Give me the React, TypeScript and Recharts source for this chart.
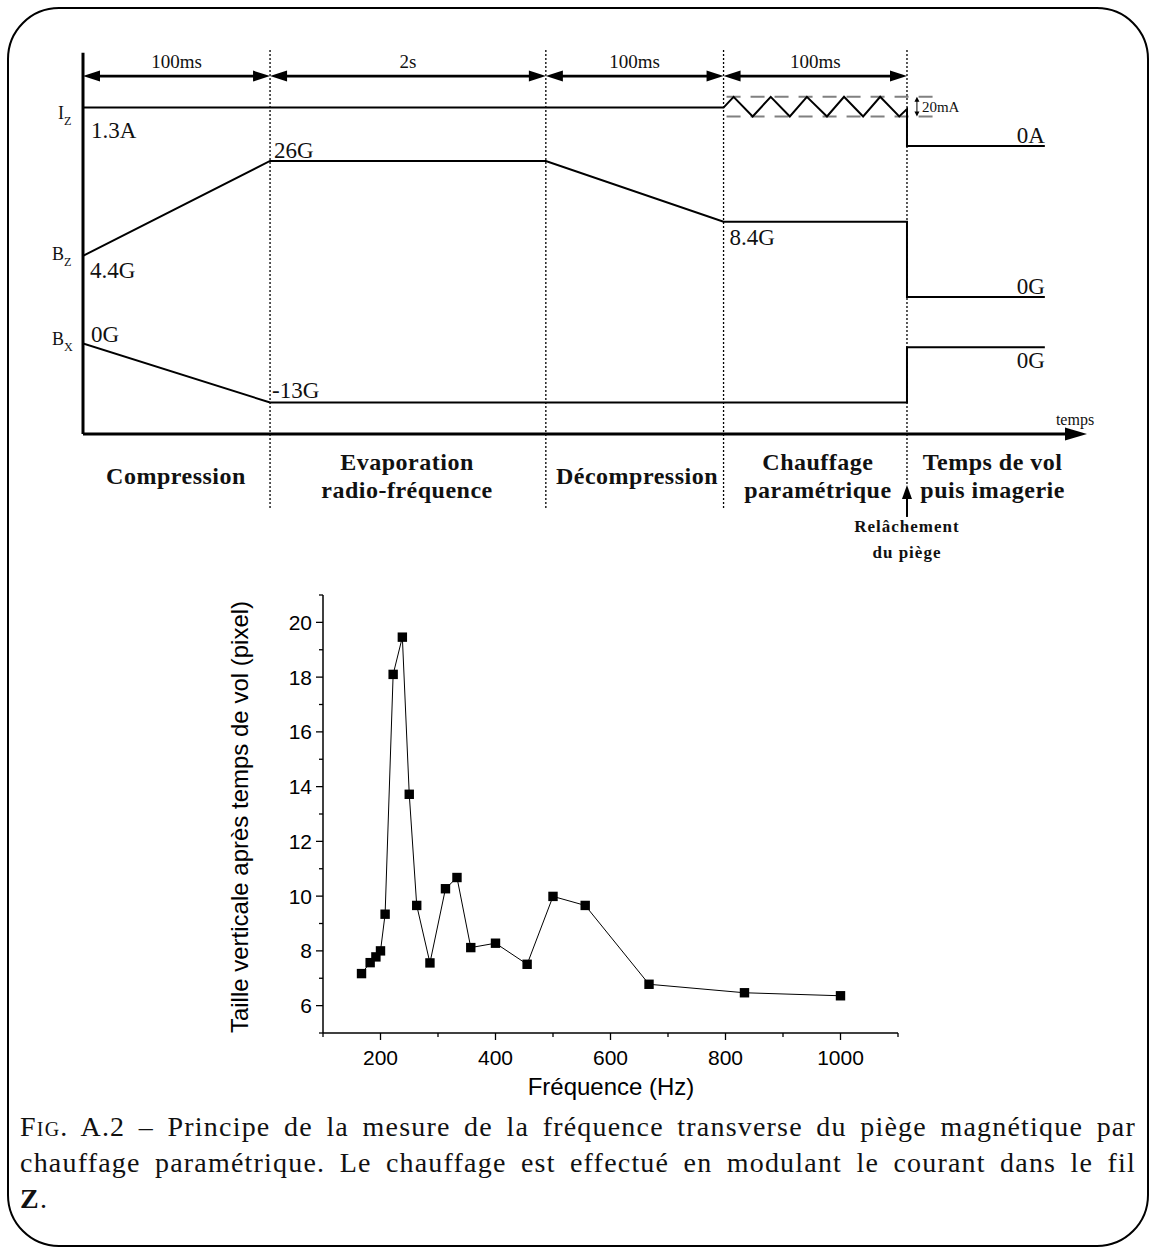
import React from 'react';
import { ComposedChart, LineChart, Line, XAxis, YAxis, ReferenceLine, ReferenceDot } from 'recharts';

const SERIF = '"Liberation Serif", "Times New Roman", serif';
const SANS = '"Liberation Sans", Arial, sans-serif';

// ---- timing diagram (schematic units, not to scale) ----
const phaseBounds = [0, 18.63, 46.1, 63.8, 82.07];
const traceEnd = 95.8;
const axisEnd = 100;
const durations = ['100ms', '2s', '100ms', '100ms'];
const phaseCenters = [9.26, 32.27, 55.18, 73.2, 90.6];
const phaseNames = [
  ['Compression'],
  ['Evaporation', 'radio-fréquence'],
  ['Décompression'],
  ['Chauffage', 'paramétrique'],
  ['Temps de vol', 'puis imagerie'],
];

const izTime = [0, 63.8, 64.8, 66.7, 68.5, 70.4, 72.1, 74.1, 75.8, 77.7, 79.4, 81.3, 82.07, 82.07, 95.8];
const izLevel = [85.0, 85.0, 87.8, 82.7, 87.8, 82.7, 87.8, 82.7, 87.8, 82.7, 87.8, 82.7, 84.6, 75.0, 75.0];
const bzTime = [0, 18.63, 46.1, 63.8, 82.07, 82.07, 95.8];
const bzLevel = [46.4, 71.1, 71.1, 55.3, 55.3, 35.7, 35.7];
const bxTime = [0, 18.63, 82.07, 82.07, 95.8];
const bxLevel = [23.6, 8.2, 8.2, 22.6, 22.6];
const modTop = 87.8;
const modBottom = 82.7;

// ---- parametric heating measurement ----
const freq = [167, 182, 192, 200, 208, 222, 238, 250, 263, 286, 313, 333, 357, 400, 455, 500, 556, 667, 833, 1000];
const size = [7.17, 7.57, 7.78, 8.0, 9.34, 18.1, 19.46, 13.72, 9.66, 7.56, 10.27, 10.68, 8.12, 8.28, 7.51, 9.99, 9.66, 6.78, 6.47, 6.36];
const freqTicks = [100, 200, 300, 400, 500, 600, 700, 800, 900, 1000, 1100];
const sizeTicks = [5, 6, 7, 8, 9, 10, 11, 12, 13, 14, 15, 16, 17, 18, 19, 20, 21];

const zip = (t: number[], v: number[]) => t.map((x, i) => ({ t: x, v: v[i] }));
const sizeData = freq.map((f, i) => ({ f, s: size[i] }));

const arrowShape = (o: { both?: boolean; len: number; half: number; width: number }) => (p: any) => {
  const { x1, y1, x2, y2 } = p;
  const dx = x2 - x1;
  const dy = y2 - y1;
  const L = Math.hypot(dx, dy) || 1;
  const ux = dx / L;
  const uy = dy / L;
  const nx = -uy;
  const ny = ux;
  const end = `${x2},${y2} ${x2 - ux * o.len + nx * o.half},${y2 - uy * o.len + ny * o.half} ${x2 - ux * o.len - nx * o.half},${y2 - uy * o.len - ny * o.half}`;
  const start = `${x1},${y1} ${x1 + ux * o.len + nx * o.half},${y1 + uy * o.len + ny * o.half} ${x1 + ux * o.len - nx * o.half},${y1 + uy * o.len - ny * o.half}`;
  const sx = o.both ? x1 + ux * o.len * 0.6 : x1;
  const sy = o.both ? y1 + uy * o.len * 0.6 : y1;
  return (
    <g>
      <line x1={sx} y1={sy} x2={x2 - ux * o.len * 0.6} y2={y2 - uy * o.len * 0.6} stroke="#000" strokeWidth={o.width} />
      <polygon points={end} fill="#000" />
      {o.both && <polygon points={start} fill="#000" />}
    </g>
  );
};

type TagOpts = { dx?: number; dy?: number; anchor?: 'start' | 'middle' | 'end'; size?: number; weight?: string; sub?: string; spacing?: number };

const tag = (key: string, x: number, y: number, text: string, o: TagOpts = {}) => (
  <ReferenceDot
    key={key}
    x={x}
    y={y}
    r={1}
    ifOverflow="visible"
    shape={(p: any) => (
      <text
        x={p.cx + (o.dx || 0)}
        y={p.cy + (o.dy || 0)}
        textAnchor={o.anchor || 'start'}
        fontFamily={SERIF}
        fontSize={o.size || 23}
        fontWeight={o.weight || 'normal'}
        letterSpacing={o.spacing || 0}
        fill="#111"
      >
        {text}
        {o.sub && (
          <tspan fontSize={(o.size || 23) * 0.68} dy={6}>
            {o.sub}
          </tspan>
        )}
      </text>
    )}
  />
);

function TimingDiagram() {
  const dotted = { stroke: '#000', strokeWidth: 1.3, strokeDasharray: '2 2', ifOverflow: 'visible' as const };
  return (
    <ComposedChart width={1155} height={570} margin={{ top: 50, right: 68, bottom: 40, left: 83 }}>
      <XAxis type="number" dataKey="t" domain={[0, axisEnd]} hide allowDataOverflow />
      <YAxis type="number" domain={[-25, 100]} hide allowDataOverflow />

      {phaseBounds.slice(1, 4).map((b) => (
        <ReferenceLine key={`d${b}`} segment={[{ x: b, y: 100 }, { x: b, y: -19.5 }]} {...dotted} />
      ))}
      <ReferenceLine segment={[{ x: phaseBounds[4], y: 100 }, { x: phaseBounds[4], y: -13.3 }]} {...dotted} />

      <ReferenceLine segment={[{ x: 0, y: 99.3 }, { x: 0, y: 0 }]} stroke="#000" strokeWidth={3} ifOverflow="visible" />
      <ReferenceLine
        segment={[{ x: 0, y: 0 }, { x: axisEnd, y: 0 }]}
        ifOverflow="visible"
        shape={arrowShape({ len: 22, half: 6.5, width: 3.2 })}
      />

      {durations.map((d, i) => (
        <ReferenceLine
          key={`a${i}`}
          segment={[{ x: phaseBounds[i], y: 93.2 }, { x: phaseBounds[i + 1], y: 93.2 }]}
          ifOverflow="visible"
          shape={arrowShape({ both: true, len: 17, half: 5.5, width: 2.6 })}
        />
      ))}
      {durations.map((d, i) => tag(`dl${i}`, (phaseBounds[i] + phaseBounds[i + 1]) / 2, 93.2, d, { dy: -8, anchor: 'middle', size: 19 }))}

      <ReferenceLine segment={[{ x: 64.1, y: modTop }, { x: 85.6, y: modTop }]} stroke="#808080" strokeWidth={2} strokeDasharray="14 10" ifOverflow="visible" />
      <ReferenceLine segment={[{ x: 64.1, y: modBottom }, { x: 85.6, y: modBottom }]} stroke="#808080" strokeWidth={2} strokeDasharray="14 10" ifOverflow="visible" />
      <ReferenceLine
        segment={[{ x: 83.06, y: modTop }, { x: 83.06, y: modBottom }]}
        ifOverflow="visible"
        shape={arrowShape({ both: true, len: 5, half: 2.5, width: 1 })}
      />
      {tag('ma', 83.06, (modTop + modBottom) / 2, '20mA', { dx: 5, dy: 5, size: 15 })}

      <Line data={zip(izTime, izLevel)} dataKey="v" type="linear" stroke="#000" strokeWidth={2} dot={false} isAnimationActive={false} />
      <Line data={zip(bzTime, bzLevel)} dataKey="v" type="linear" stroke="#000" strokeWidth={2} dot={false} isAnimationActive={false} />
      <Line data={zip(bxTime, bxLevel)} dataKey="v" type="linear" stroke="#000" strokeWidth={2} dot={false} isAnimationActive={false} />

      {tag('iz', 0, izLevel[0], 'I', { dx: -25, dy: 11, size: 18, sub: 'Z' })}
      {tag('bz', 0, bzLevel[0], 'B', { dx: -31, dy: 4, size: 18, sub: 'Z' })}
      {tag('bx', 0, bxLevel[0], 'B', { dx: -31, dy: 2, size: 18, sub: 'X' })}

      {tag('l1', 0, izLevel[0], '1.3A', { dx: 8, dy: 30 })}
      {tag('l2', phaseBounds[1], bzLevel[1], '26G', { dx: 4, dy: -3 })}
      {tag('l3', 0, bzLevel[0], '4.4G', { dx: 7, dy: 22 })}
      {tag('l4', phaseBounds[3], bzLevel[3], '8.4G', { dx: 6, dy: 23 })}
      {tag('l5', traceEnd, izLevel[izLevel.length - 1], '0A', { dy: -3, anchor: 'end' })}
      {tag('l6', traceEnd, bzLevel[bzLevel.length - 1], '0G', { dy: -3, anchor: 'end' })}
      {tag('l7', traceEnd, bxLevel[bxLevel.length - 1], '0G', { dy: 21, anchor: 'end' })}
      {tag('l8', 0, bxLevel[0], '0G', { dx: 8, dy: -1 })}
      {tag('l9', phaseBounds[1], bxLevel[1], '-13G', { dx: 2, dy: -5 })}
      {tag('tp', axisEnd, 0, 'temps', { dx: -12, dy: -9, anchor: 'middle', size: 16 })}

      {phaseNames.map((lines, i) =>
        lines.map((s, j) =>
          tag(`p${i}${j}`, phaseCenters[i], 0, s, {
            dy: lines.length === 1 ? 50 : 36 + j * 28,
            anchor: 'middle',
            size: 24,
            weight: 'bold',
            spacing: 0.5,
          })
        )
      )}

      <ReferenceLine
        segment={[{ x: phaseBounds[4], y: -21.6 }, { x: phaseBounds[4], y: -13.3 }]}
        ifOverflow="visible"
        shape={arrowShape({ len: 14, half: 5, width: 2 })}
      />
      {tag('r1', phaseBounds[4], -25, 'Relâchement', { dy: 2, anchor: 'middle', size: 17, weight: 'bold', spacing: 1 })}
      {tag('r2', phaseBounds[4], -25, 'du piège', { dy: 28, anchor: 'middle', size: 17, weight: 'bold', spacing: 1 })}
    </ComposedChart>
  );
}

const YTick = (p: any) => {
  const v = p.payload.value;
  const major = v % 2 === 0;
  return (
    <g>
      <line x1={p.x - (major ? 7 : 4)} y1={p.y} x2={p.x} y2={p.y} stroke="#000" strokeWidth={1.3} />
      {major && (
        <text x={p.x - 11} y={p.y} dy="0.36em" textAnchor="end" fontFamily={SANS} fontSize={21} fill="#000">
          {v}
        </text>
      )}
    </g>
  );
};

const XTick = (p: any) => {
  const v = p.payload.value;
  const major = v % 200 === 0;
  return (
    <g>
      <line x1={p.x} y1={p.y} x2={p.x} y2={p.y + (major ? 7 : 4)} stroke="#000" strokeWidth={1.3} />
      {major && (
        <text x={p.x} y={p.y + 32} textAnchor="middle" fontFamily={SANS} fontSize={21} fill="#000">
          {v}
        </text>
      )}
    </g>
  );
};

const Square = (p: any) => (
  <rect key={`sq${p.index}`} x={p.cx - 4.7} y={p.cy - 4.7} width={9.4} height={9.4} fill="#000" />
);

function HeatingChart() {
  return (
    <LineChart width={1155} height={540} data={sizeData} margin={{ top: 25, right: 257, bottom: 47, left: 263 }}>
      <XAxis
        type="number"
        dataKey="f"
        domain={[100, 1100]}
        ticks={freqTicks}
        interval={0}
        tickSize={0}
        tickMargin={0}
        tickLine={false}
        height={30}
        axisLine={{ stroke: '#000', strokeWidth: 1.5 }}
        tick={XTick}
      />
      <YAxis
        type="number"
        domain={[5, 21]}
        ticks={sizeTicks}
        interval={0}
        tickSize={0}
        tickMargin={0}
        tickLine={false}
        width={60}
        axisLine={{ stroke: '#000', strokeWidth: 1.5 }}
        tick={YTick}
      />
      <Line dataKey="s" type="linear" stroke="#000" strokeWidth={1} dot={Square} isAnimationActive={false} />
    </LineChart>
  );
}

export default function App() {
  const capLine: React.CSSProperties = { textAlign: 'justify', textAlignLast: 'justify', whiteSpace: 'nowrap', height: 36 };
  return (
    <div style={{ position: 'absolute', left: 0, top: 0, width: 1155, height: 1253, background: '#fff', overflow: 'hidden' }}>
      <div
        style={{
          position: 'absolute',
          left: 7,
          top: 7,
          width: 1138,
          height: 1236,
          border: '2.5px solid #000',
          borderRadius: 52,
        }}
      />
      <div style={{ position: 'absolute', left: 0, top: 0 }}>
        <TimingDiagram />
      </div>
      <div style={{ position: 'absolute', left: 0, top: 570 }}>
        <HeatingChart />
      </div>
      <div
        style={{
          position: 'absolute',
          left: 240,
          top: 817,
          transform: 'translate(-50%, -50%) rotate(-90deg)',
          whiteSpace: 'nowrap',
          fontFamily: SANS,
          fontSize: 24,
          color: '#000',
        }}
      >
        Taille verticale après temps de vol (pixel)
      </div>
      <div
        style={{
          position: 'absolute',
          left: 611,
          top: 1087,
          transform: 'translate(-50%, -50%)',
          whiteSpace: 'nowrap',
          fontFamily: SANS,
          fontSize: 24,
          color: '#000',
        }}
      >
        Fréquence (Hz)
      </div>
      <div
        style={{
          position: 'absolute',
          left: 20,
          top: 1109,
          width: 1116,
          fontFamily: SERIF,
          fontSize: 28,
          letterSpacing: 1.2,
          lineHeight: '36px',
          color: '#111',
        }}
      >
        <div style={capLine}>
          <span style={{ fontVariant: 'small-caps' }}>Fig.</span> A.2 – Principe de la mesure de la fréquence transverse du piège magnétique par
        </div>
        <div style={capLine}>
          chauffage paramétrique. Le chauffage est effectué en modulant le courant dans le fil
        </div>
        <div style={{ height: 36 }}>
          <b>Z</b>.
        </div>
      </div>
    </div>
  );
}
